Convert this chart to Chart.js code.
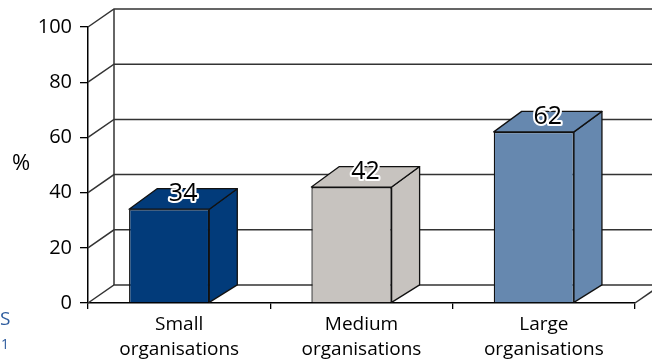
<!DOCTYPE html>
<html>
<head>
<meta charset="utf-8">
<script src="https://cdn.jsdelivr.net/npm/chart.js@4/dist/chart.umd.min.js"></script>
<style>
  html, body { margin: 0; padding: 0; background: #fff; }
  canvas { display: block; }
</style>
</head>
<body>
<canvas id="chart" width="652" height="363"></canvas>
<script>
// Share of organisations, by size
const categories = [["Small", "organisations"], ["Medium", "organisations"], ["Large", "organisations"]];
const values = [34, 42, 62];
const barColors = ["#023b7a", "#c7c3bf", "#6688af"];
const yTicks = [0, 20, 40, 60, 80, 100];

const FONT = "'Open Sans', 'DejaVu Sans', sans-serif";
Chart.defaults.font.family = FONT;

// depth of the back wall and of the columns
const WALL_DX = 26, WALL_DY = -18;
const BAR_DX = 28, BAR_TOP_DY = -20.5, BAR_BASE_DY = -17.5;
const BAR_SHIFT = -10;

function poly(ctx, pts, fill) {
    ctx.beginPath();
    ctx.moveTo(pts[0][0], pts[0][1]);
    for (let i = 1; i < pts.length; i++) ctx.lineTo(pts[i][0], pts[i][1]);
    ctx.closePath();
    if (fill) { ctx.fillStyle = fill; ctx.fill(); }
    ctx.stroke();
}

const box3d = {
    id: "box3d",
    beforeDatasetsDraw(chart) {
        const { ctx, chartArea: { left, right, bottom }, scales: { y } } = chart;
        ctx.save();
        ctx.strokeStyle = "#333";
        ctx.lineWidth = 1.5;
        // side wall diagonals + back wall gridlines
        yTicks.forEach((v) => {
            const py = y.getPixelForValue(v);
            ctx.beginPath();
            ctx.moveTo(left, py);
            ctx.lineTo(left + WALL_DX, py + WALL_DY);
            ctx.lineTo(right + WALL_DX, py + WALL_DY);
            ctx.stroke();
        });
        // back wall left edge
        ctx.beginPath();
        ctx.moveTo(left + WALL_DX, y.getPixelForValue(100) + WALL_DY);
        ctx.lineTo(left + WALL_DX, y.getPixelForValue(0) + WALL_DY);
        ctx.stroke();
        // floor right edge
        ctx.beginPath();
        ctx.moveTo(right, bottom);
        ctx.lineTo(right + WALL_DX, bottom + WALL_DY);
        ctx.stroke();
        ctx.restore();

        // front faces are drawn by the bar controller, nudged left
        ctx.save();
        ctx.translate(BAR_SHIFT, 0);
    },
    afterDatasetsDraw(chart) {
        const { ctx } = chart;
        ctx.restore();

        const meta = chart.getDatasetMeta(0);
        ctx.save();
        ctx.strokeStyle = "#111";
        ctx.lineWidth = 1.3;
        ctx.lineJoin = "round";
        meta.data.forEach((bar, i) => {
            const { x, y, base, width } = bar.getProps(["x", "y", "base", "width"], true);
            const xl = x - width / 2 + BAR_SHIFT;
            const xr = x + width / 2 + BAR_SHIFT;
            // right side
            poly(ctx, [[xr, y], [xr + BAR_DX, y + BAR_TOP_DY], [xr + BAR_DX, base + BAR_BASE_DY], [xr, base]], barColors[i]);
            // top
            poly(ctx, [[xl, y], [xl + BAR_DX, y + BAR_TOP_DY], [xr + BAR_DX, y + BAR_TOP_DY], [xr, y]], barColors[i]);
        });

        // value labels with white halo
        ctx.font = "25px " + FONT;
        ctx.textAlign = "center";
        ctx.textBaseline = "middle";
        ctx.lineJoin = "round";
        meta.data.forEach((bar, i) => {
            const { x, y } = bar.getProps(["x", "y"], true);
            const tx = x + BAR_SHIFT + BAR_DX / 2;
            const ty = y - 15;
            ctx.strokeStyle = "#fff";
            ctx.lineWidth = 4;
            ctx.strokeText(String(values[i]), tx, ty);
            ctx.fillStyle = "#000";
            ctx.fillText(String(values[i]), tx, ty);
        });

        // axis unit
        ctx.font = "22px " + FONT;
        ctx.fillStyle = "#000";
        ctx.fillText("%", 21, 164);

        // page text at the edge
        ctx.fillStyle = "#2e5c9e";
        ctx.textAlign = "left";
        ctx.font = "19px " + FONT;
        ctx.fillText("S", 0, 320);
        ctx.font = "14px " + FONT;
        ctx.fillText("1", 1, 345);
        ctx.restore();
    },
};

new Chart(document.getElementById("chart"), {
    type: "bar",
    data: {
        labels: categories,
        datasets: [{
            data: values,
            backgroundColor: barColors,
            borderColor: "#111",
            borderWidth: 1.3,
            barPercentage: 0.44,
            categoryPercentage: 1,
        }],
    },
    options: {
        responsive: false,
        animation: false,
        devicePixelRatio: 1,
        layout: { padding: { top: 27, right: 17, left: 0, bottom: 0 } },
        plugins: {
            legend: { display: false },
            tooltip: { enabled: false },
        },
        scales: {
            x: {
                afterFit: (scale) => { scale.height = 60; },
                grid: { offset: true, drawOnChartArea: false, tickLength: 6, color: "#000", lineWidth: 1.3 },
                border: { color: "#000", width: 1.5 },
                ticks: {
                    color: "#000",
                    padding: 3,
                    maxRotation: 0,
                    font: { size: 19, lineHeight: 1.32 },
                },
            },
            y: {
                min: 0,
                max: 100,
                afterFit: (scale) => { scale.width = 88; },
                afterBuildTicks: (scale) => { scale.ticks = yTicks.map((v) => ({ value: v })); },
                grid: { drawOnChartArea: false, tickLength: 8, color: "#000", lineWidth: 1.3 },
                border: { color: "#000", width: 1.5 },
                ticks: { color: "#000", padding: 8, font: { size: 20 } },
            },
        },
    },
    plugins: [box3d],
});
</script>
</body>
</html>
